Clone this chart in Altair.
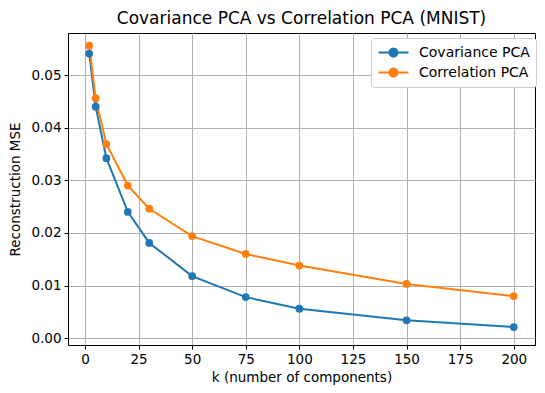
import altair as alt
import pandas as pd

k_values = [2, 5, 10, 20, 30, 50, 75, 100, 150, 200]
cov_mse = [0.0541, 0.0440, 0.0342, 0.0240, 0.0181, 0.0118, 0.0078, 0.0056, 0.0034, 0.0021]
corr_mse = [0.0556, 0.0456, 0.0369, 0.0290, 0.0246, 0.0194, 0.0160, 0.0138, 0.0103, 0.0080]
series_names = ["Covariance PCA", "Correlation PCA"]
series_colors = ["#1f77b4", "#ff7f0e"]

rows = []
for k, v in zip(k_values, cov_mse):
    rows.append({"k": k, "mse": v, "method": series_names[0]})
for k, v in zip(k_values, corr_mse):
    rows.append({"k": k, "mse": v, "method": series_names[1]})
df = pd.DataFrame(rows)

FONT = "DejaVu Sans"

color = alt.Color(
    "method:N",
    scale=alt.Scale(domain=series_names, range=series_colors),
    sort=series_names,
    legend=alt.Legend(
        title=None,
        orient="none",
        legendX=303,
        legendY=5,
        symbolType="M-2,0H2M0.55,0A0.55,0.55,0,1,1,-0.55,0A0.55,0.55,0,1,1,0.55,0Z",
        symbolSize=225,
        symbolStrokeWidth=2,
        labelFont=FONT,
        labelFontSize=14,
        labelColor="black",
        fillColor="white",
        strokeColor="#cccccc",
        cornerRadius=3,
        padding=6,
        rowPadding=3,
        symbolOffset=8,
        labelOffset=17,
    ),
)

x = alt.X(
    "k:Q",
    scale=alt.Scale(domain=[-7.9, 209.9], nice=False, zero=False),
    axis=alt.Axis(values=[0, 25, 50, 75, 100, 125, 150, 175, 200], title="k (number of components)"),
)
y = alt.Y(
    "mse:Q",
    scale=alt.Scale(domain=[-0.0013, 0.0580], nice=False, zero=False),
    axis=alt.Axis(values=[0, 0.01, 0.02, 0.03, 0.04, 0.05], format=".2f", title="Reconstruction MSE"),
)

base = alt.Chart(df)
lines = base.mark_line(strokeWidth=2).encode(x=x, y=y, color=color, order="k:Q")
points = base.mark_point(filled=True, size=60, opacity=1).encode(x=x, y=y, color=color)

chart = (
    alt.layer(lines, points)
    .properties(
        width=467,
        height=312,
        title=alt.TitleParams(
            "Covariance PCA vs Correlation PCA (MNIST)",
            font=FONT,
            fontSize=17,
            fontWeight="normal",
            color="black",
            offset=5,
        ),
        autosize=alt.AutoSizeParams(type="none"),
        padding={"left": 60, "top": 25, "right": 2, "bottom": 40},
    )
    .configure_view(stroke="black", strokeWidth=1)
    .configure_axis(
        labelFont=FONT,
        titleFont=FONT,
        labelFontSize=13.5,
        titleFontSize=13.5,
        titleFontWeight="normal",
        labelColor="black",
        titleColor="black",
        domain=False,
        tickColor="black",
        tickSize=4,
        grid=True,
        gridColor="#b0b0b0",
        gridWidth=1,
    )
    .configure_axisX(titlePadding=5, labelPadding=3)
    .configure_axisY(titlePadding=8, labelPadding=3)
)

chart.save("out.html", embed_options={"renderer": "svg", "actions": False})
